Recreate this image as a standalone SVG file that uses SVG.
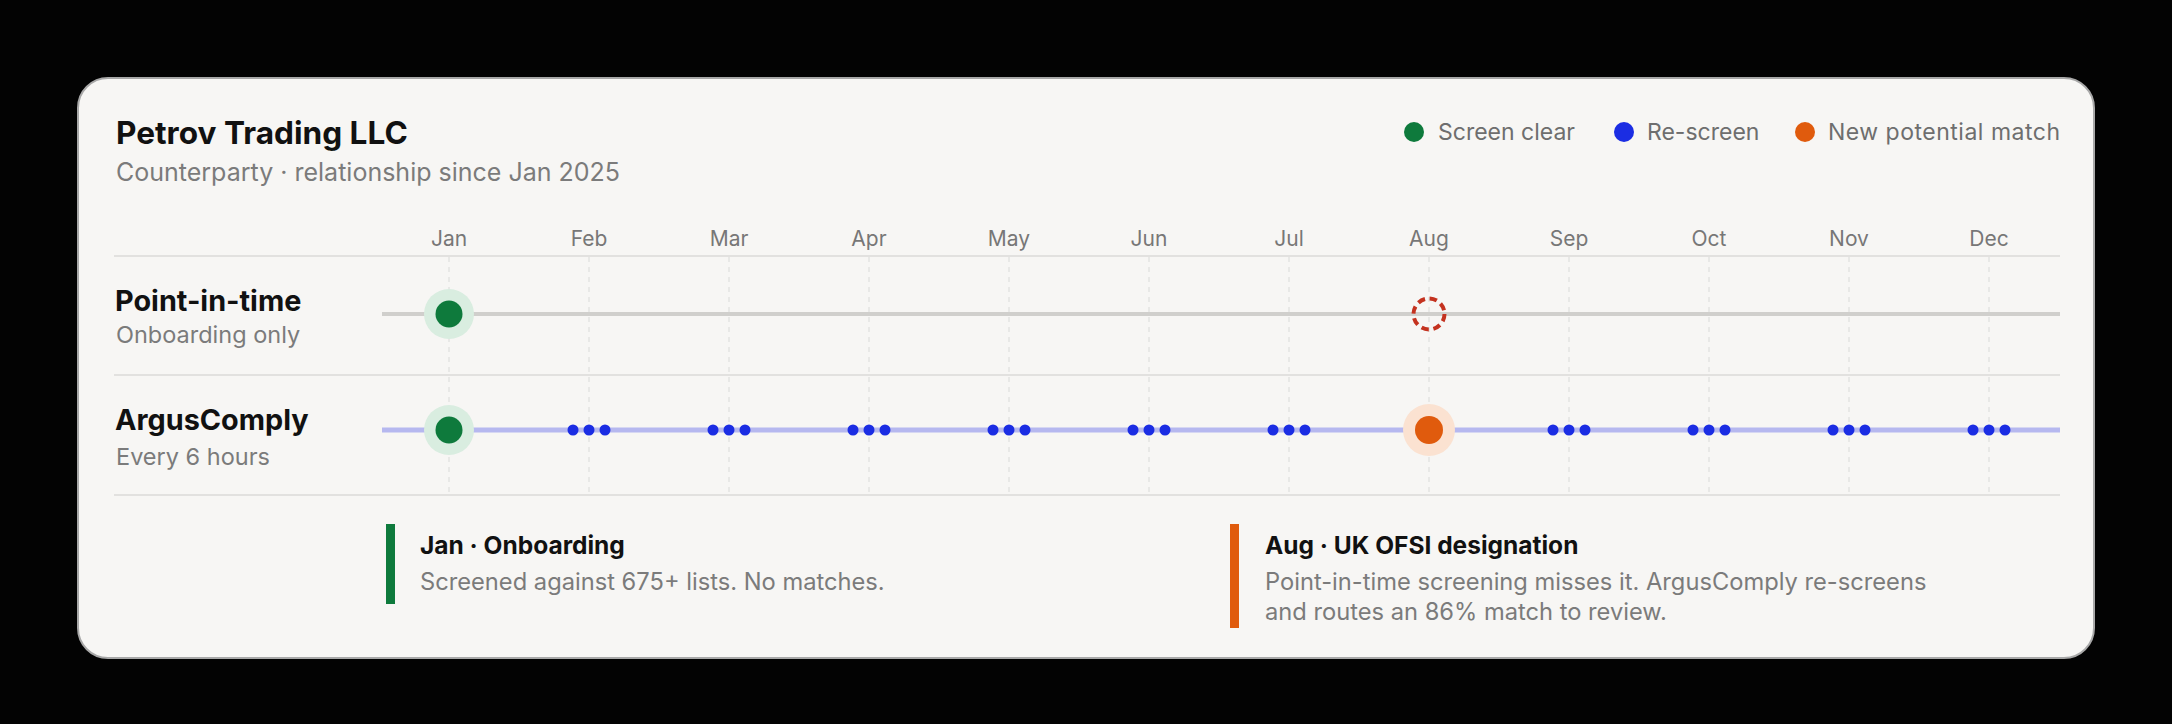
<svg xmlns="http://www.w3.org/2000/svg" width="2172" height="724" viewBox="0 0 2172 724">
<style>
text{font-family:Inter,"Noto Sans","Liberation Sans",sans-serif}
.title{font-size:31.6px;font-weight:700;fill:#111}
.sub{font-size:25px;fill:#7b7b7b}
.leg{font-size:23px;fill:#6e6e6e}
.month{font-size:21px;fill:#777;text-anchor:middle}
.rowt{font-size:28.8px;font-weight:700;fill:#111}
.rows{font-size:23.5px;fill:#7b7b7b}
.ft{font-size:24.5px;font-weight:700;fill:#111}
.fd{font-size:23.7px;fill:#7b7b7b}
.sep{stroke:#e2e1df;stroke-width:2}
.grid{stroke:#e4e3e1;stroke-width:1.5;stroke-dasharray:5 5}
.blue{fill:#1b2de3}
</style>
<rect width="2172" height="724" fill="#030303"/>
<rect x="78" y="78" width="2016" height="580" rx="30" fill="#f7f6f4" stroke="#a8a8a8" stroke-width="2"/>
<g id="header">
<text class="title" x="116" y="144">Petrov Trading LLC</text>
<text class="sub" x="116" y="181">Counterparty · relationship since Jan 2025</text>
</g>
<g id="legend">
<circle cx="1414" cy="132" r="10" fill="#0e7a3c"/>
<text class="leg" x="1438" y="140">Screen clear</text>
<circle cx="1624" cy="132" r="10" fill="#1b2de3"/>
<text class="leg" x="1647" y="140">Re-screen</text>
<circle cx="1805" cy="132" r="10" fill="#e05b0d"/>
<text class="leg" x="1828" y="140" textLength="232">New potential match</text>
</g>
<g id="axis">
<text class="month" x="449" y="246">Jan</text>
<text class="month" x="589" y="246">Feb</text>
<text class="month" x="729" y="246">Mar</text>
<text class="month" x="869" y="246">Apr</text>
<text class="month" x="1009" y="246">May</text>
<text class="month" x="1149" y="246">Jun</text>
<text class="month" x="1289" y="246">Jul</text>
<text class="month" x="1429" y="246">Aug</text>
<text class="month" x="1569" y="246">Sep</text>
<text class="month" x="1709" y="246">Oct</text>
<text class="month" x="1849" y="246">Nov</text>
<text class="month" x="1989" y="246">Dec</text>
<line class="sep" x1="114" y1="256" x2="2060" y2="256"/>
<line class="sep" x1="114" y1="375" x2="2060" y2="375"/>
<line class="sep" x1="114" y1="495" x2="2060" y2="495"/>
<g>
<line class="grid" x1="449" y1="257" x2="449" y2="494"/>
<line class="grid" x1="589" y1="257" x2="589" y2="494"/>
<line class="grid" x1="729" y1="257" x2="729" y2="494"/>
<line class="grid" x1="869" y1="257" x2="869" y2="494"/>
<line class="grid" x1="1009" y1="257" x2="1009" y2="494"/>
<line class="grid" x1="1149" y1="257" x2="1149" y2="494"/>
<line class="grid" x1="1289" y1="257" x2="1289" y2="494"/>
<line class="grid" x1="1429" y1="257" x2="1429" y2="494"/>
<line class="grid" x1="1569" y1="257" x2="1569" y2="494"/>
<line class="grid" x1="1709" y1="257" x2="1709" y2="494"/>
<line class="grid" x1="1849" y1="257" x2="1849" y2="494"/>
<line class="grid" x1="1989" y1="257" x2="1989" y2="494"/>
</g>
</g>
<g id="row-point-in-time">
<text class="rowt" x="115" y="311">Point-in-time</text>
<text class="rows" x="116" y="343">Onboarding only</text>
<line x1="382" y1="314" x2="2060" y2="314" stroke="#d0cfcc" stroke-width="4"/>
<circle cx="449" cy="314" r="25" fill="#d9ede0"/>
<circle cx="449" cy="314" r="13.5" fill="#0e7a3c"/>
<circle cx="1429" cy="314" r="15.5" fill="none" stroke="#c4321f" stroke-width="4" stroke-dasharray="7.5 4.7"/>
</g>
<g id="row-arguscomply">
<text class="rowt" x="115" y="430">ArgusComply</text>
<text class="rows" x="116" y="465">Every 6 hours</text>
<line x1="382" y1="430" x2="2060" y2="430" stroke="#b6b8ef" stroke-width="5"/>
<circle cx="449" cy="430" r="25" fill="#d9ede0"/>
<circle cx="449" cy="430" r="13.5" fill="#0e7a3c"/>
<g class="blue">
<circle cx="573" cy="430" r="5.5"/><circle cx="589" cy="430" r="5.5"/><circle cx="605" cy="430" r="5.5"/>
<circle cx="713" cy="430" r="5.5"/><circle cx="729" cy="430" r="5.5"/><circle cx="745" cy="430" r="5.5"/>
<circle cx="853" cy="430" r="5.5"/><circle cx="869" cy="430" r="5.5"/><circle cx="885" cy="430" r="5.5"/>
<circle cx="993" cy="430" r="5.5"/><circle cx="1009" cy="430" r="5.5"/><circle cx="1025" cy="430" r="5.5"/>
<circle cx="1133" cy="430" r="5.5"/><circle cx="1149" cy="430" r="5.5"/><circle cx="1165" cy="430" r="5.5"/>
<circle cx="1273" cy="430" r="5.5"/><circle cx="1289" cy="430" r="5.5"/><circle cx="1305" cy="430" r="5.5"/>
<circle cx="1553" cy="430" r="5.5"/><circle cx="1569" cy="430" r="5.5"/><circle cx="1585" cy="430" r="5.5"/>
<circle cx="1693" cy="430" r="5.5"/><circle cx="1709" cy="430" r="5.5"/><circle cx="1725" cy="430" r="5.5"/>
<circle cx="1833" cy="430" r="5.5"/><circle cx="1849" cy="430" r="5.5"/><circle cx="1865" cy="430" r="5.5"/>
<circle cx="1973" cy="430" r="5.5"/><circle cx="1989" cy="430" r="5.5"/><circle cx="2005" cy="430" r="5.5"/>
</g>
<circle cx="1429" cy="430" r="26" fill="#fbe2d1"/>
<circle cx="1429" cy="430" r="14" fill="#e05b0d"/>
</g>
<g id="note-jan">
<rect x="386" y="524" width="9" height="80" fill="#0e7a3c"/>
<text class="ft" x="420" y="554">Jan · Onboarding</text>
<text class="fd" x="420" y="590">Screened against 675+ lists. No matches.</text>
</g>
<g id="note-aug">
<rect x="1230" y="524" width="9" height="104" fill="#e05b0d"/>
<text class="ft" x="1265" y="554">Aug · UK OFSI designation</text>
<text class="fd" x="1265" y="590">Point-in-time screening misses it. ArgusComply re-screens</text>
<text class="fd" x="1265" y="620">and routes an 86% match to review.</text>
</g>
</svg>
